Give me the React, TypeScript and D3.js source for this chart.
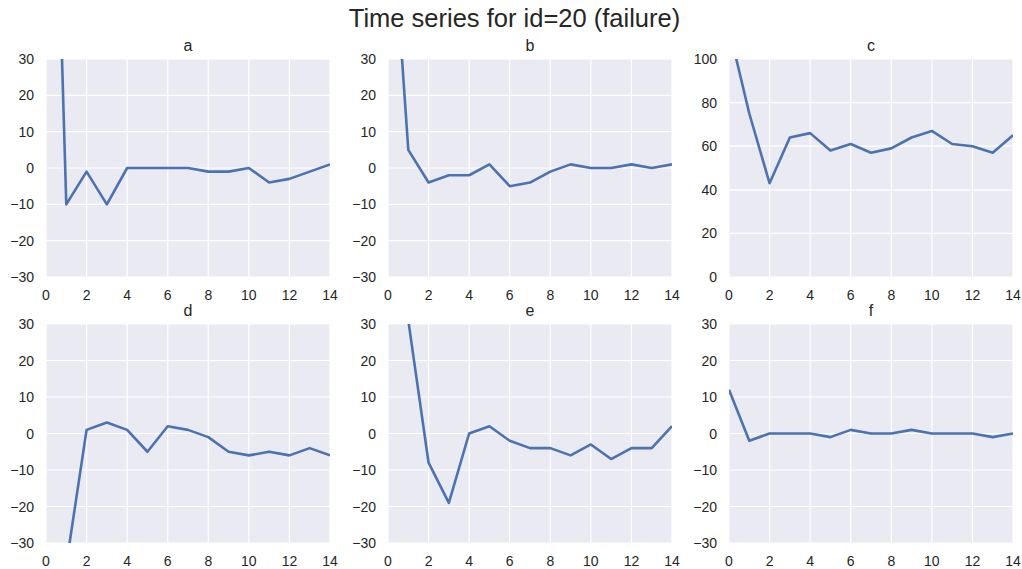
import * as d3 from "d3";

const title = "Time series for id=20 (failure)";
const steps = d3.range(0, 15);
const panelNames = ["a", "b", "c", "d", "e", "f"];

// First points run off the axes and are clipped.
const seriesA = [180, -10, -1, -10, 0, 0, 0, 0, -1, -1, 0, -4, -3, -1, 1];
const seriesB = [86, 5, -4, -2, -2, 1, -5, -4, -1, 1, 0, 0, 1, 0, 1];
const seriesC = [114, 75, 43, 64, 66, 58, 61, 57, 59, 64, 67, 61, 60, 57, 65];
const seriesD = [-120, -36, 1, 3, 1, -5, 2, 1, -1, -5, -6, -5, -6, -4, -6];
const seriesE = [90, 31, -8, -19, 0, 2, -2, -4, -4, -6, -3, -7, -4, -4, 2];
const seriesF = [12, -2, 0, 0, 0, -1, 1, 0, 0, 1, 0, 0, 0, -1, 0];

const allSeries = [seriesA, seriesB, seriesC, seriesD, seriesE, seriesF];
const yDomains: [number, number][] = [
  [-30, 30],
  [-30, 30],
  [0, 100],
  [-30, 30],
  [-30, 30],
  [-30, 30],
];
const xTicks = d3.range(0, 15, 2);

const W = 1022;
const H = 569;
const colX: [number, number][] = [
  [46, 330],
  [388, 672],
  [729, 1013],
];
const rowY: [number, number][] = [
  [59, 277],
  [324, 543],
];

const BG = "#EAEAF2";
const LINE = "#4C72B0";
const TEXT = "#262626";
const FONT = "'Liberation Sans', Arial, sans-serif";

function Panel({ idx }: { idx: number }) {
  const [x0, x1] = colX[idx % 3];
  const [y0, y1] = rowY[Math.floor(idx / 3)];
  const x = d3.scaleLinear().domain([0, 14]).range([x0, x1]);
  const y = d3.scaleLinear().domain(yDomains[idx]).range([y1, y0]);
  const yTicks = y.ticks(6);
  const line = d3
    .line<number>()
    .x((_, i) => x(steps[i]))
    .y((d) => y(d));
  const clipId = `clip-${idx}`;
  return (
    <g>
      <defs>
        <clipPath id={clipId}>
          <rect x={x0} y={y0} width={x1 - x0} height={y1 - y0} />
        </clipPath>
      </defs>
      <rect x={x0} y={y0} width={x1 - x0} height={y1 - y0} fill={BG} />
      {xTicks.map((t) => (
        <line key={`gx${t}`} x1={x(t)} x2={x(t)} y1={y0} y2={y1} stroke="#fff" strokeWidth={1.2} />
      ))}
      {yTicks.map((t) => (
        <line key={`gy${t}`} x1={x0} x2={x1} y1={y(t)} y2={y(t)} stroke="#fff" strokeWidth={1.2} />
      ))}
      <path
        d={line(allSeries[idx]) ?? ""}
        fill="none"
        stroke={LINE}
        strokeWidth={2.6}
        strokeLinejoin="round"
        clipPath={`url(#${clipId})`}
      />
      {xTicks.map((t) => (
        <text key={`tx${t}`} x={x(t)} y={y1 + 22.5} textAnchor="middle" fontSize={14} fill={TEXT}>
          {t}
        </text>
      ))}
      {yTicks.map((t) => (
        <text
          key={`ty${t}`}
          x={x0 - 12}
          y={y(t)}
          dy="0.36em"
          textAnchor="end"
          fontSize={14}
          fill={TEXT}
        >
          {t < 0 ? `\u2212${Math.abs(t)}` : t}
        </text>
      ))}
      <text x={(x0 + x1) / 2} y={y0 - 8} textAnchor="middle" fontSize={16} fill={TEXT}>
        {panelNames[idx]}
      </text>
    </g>
  );
}

export default function App() {
  return (
    <div style={{ position: "fixed", left: 0, top: 0 }}>
      <svg width={W} height={H} fontFamily={FONT} style={{ display: "block", background: "#fff" }}>
        <text x={(347 + 682) / 2} y={27} textAnchor="middle" fontSize={25.5} fill={TEXT}>
          {title}
        </text>
        {panelNames.map((_, i) => (
          <Panel key={i} idx={i} />
        ))}
      </svg>
    </div>
  );
}
